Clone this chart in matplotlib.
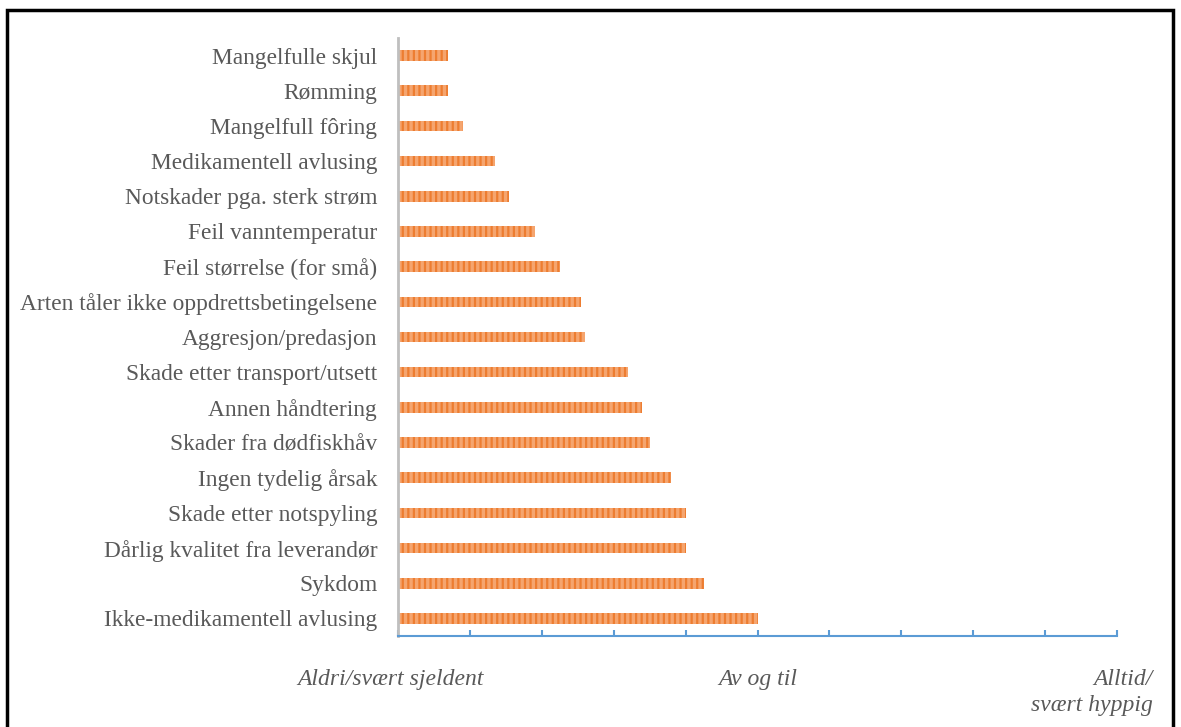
import matplotlib
matplotlib.use("Agg")
from matplotlib import pyplot as plt
from matplotlib.patches import Rectangle

# causes, top to bottom as in the chart
CAUSES = [
    "Mangelfulle skjul",
    "Rømming",
    "Mangelfull fôring",
    "Medikamentell avlusing",
    "Notskader pga. sterk strøm",
    "Feil vanntemperatur",
    "Feil størrelse (for små)",
    "Arten tåler ikke oppdrettsbetingelsene",
    "Aggresjon/predasjon",
    "Skade etter transport/utsett",
    "Annen håndtering",
    "Skader fra dødfiskhåv",
    "Ingen tydelig årsak",
    "Skade etter notspyling",
    "Dårlig kvalitet fra leverandør",
    "Sykdom",
    "Ikke-medikamentell avlusing",
]
# frequency score, 1 = never/very rare, 2 = sometimes, 3 = always
SCORES = [1.14, 1.14, 1.18, 1.27, 1.31, 1.38, 1.45, 1.51, 1.52,
          1.64, 1.68, 1.70, 1.76, 1.80, 1.80, 1.85, 2.00]

SCALE_POS = [1.0, 2.0, 3.0]
SCALE_LABELS = ["Aldri/svært sjeldent", "Av og til", "Alltid/\nsvært hyppig"]

GREY = "#595959"
ORANGE = "#ED7D31"
BLUE = "#5B9BD5"

plt.rcParams["font.family"] = ["Liberation Serif", "DejaVu Serif"]
plt.rcParams["hatch.linewidth"] = 1.6

fig = plt.figure(figsize=(11.81, 7.27), dpi=100)
ax = fig.add_axes([398 / 1181, 1 - 636 / 727, (1117 - 398) / 1181, (636 - 38) / 727])

ypos = list(range(len(CAUSES)))
ax.barh(ypos, [s - 1.0 for s in SCORES], left=1.0, height=0.3,
        color="#F5A56F", edgecolor=ORANGE, hatch="|||", linewidth=0)

ax.set_xlim(1.0, 3.0)
ax.set_ylim(len(CAUSES) - 0.5, -0.5)
ax.set_yticks(ypos)
ax.set_yticklabels(CAUSES, fontsize=16.8, color=GREY)
ax.tick_params(axis="y", length=0, pad=15)

ax.set_xticks([1.0 + 0.2 * i for i in range(11)])
ax.set_xticklabels([])
ax.tick_params(axis="x", direction="in", length=4.5, width=1.5, color=BLUE)

for side in ["top", "right"]:
    ax.spines[side].set_visible(False)
ax.spines["left"].set_color("#BFBFBF")
ax.spines["left"].set_linewidth(2)
ax.spines["bottom"].set_color(BLUE)
ax.spines["bottom"].set_linewidth(1.5)

trans = ax.get_xaxis_transform()
ax.text(SCALE_POS[0] - 0.02, -0.055, SCALE_LABELS[0], transform=trans, ha="center",
        va="top", style="italic", fontsize=17, color=GREY)
ax.text(SCALE_POS[1], -0.055, SCALE_LABELS[1], transform=trans, ha="center",
        va="top", style="italic", fontsize=17, color=GREY)
ax.text(SCALE_POS[2] + 0.1, -0.055, SCALE_LABELS[2], transform=trans, ha="right",
        va="top", style="italic", fontsize=17, color=GREY, linespacing=1.35)

# black frame around the figure, bottom edge runs off the image
fig.patches.append(Rectangle((7 / 1181, -0.05), (1173 - 7) / 1181, 1.05 - 10 / 727,
                             transform=fig.transFigure, fill=False,
                             edgecolor="black", linewidth=2.5))

fig.savefig("out.png", dpi=100)
